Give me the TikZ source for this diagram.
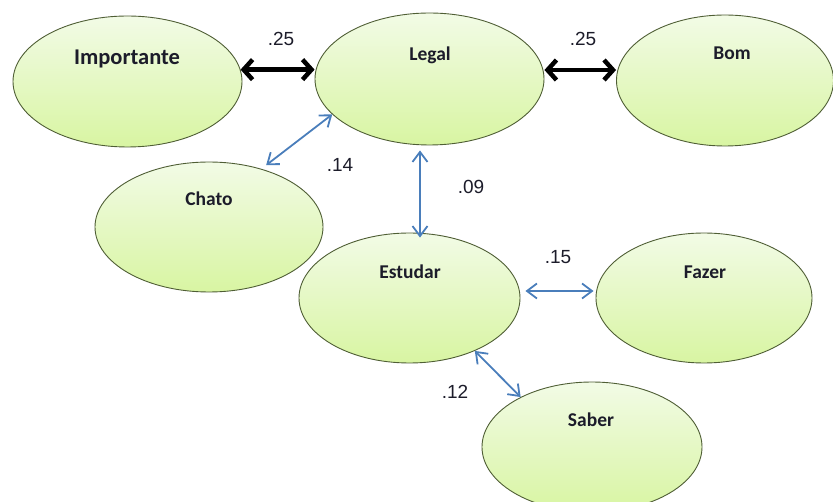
\documentclass[tikz,border=0pt]{standalone}
\usepackage{fontspec}
\usetikzlibrary{shapes.geometric,arrows.meta}
\newfontfamily\namefont{Carlito}
\newfontfamily\numfont{Liberation Sans}
\definecolor{topg}{HTML}{F2FBE6}
\definecolor{botg}{HTML}{D8F5A2}
\definecolor{edgeg}{HTML}{4F5E35}
\definecolor{arrblue}{HTML}{4A7EBB}
\definecolor{txtc}{HTML}{1C1C2A}
\tikzset{
  ell/.style={ellipse, draw=edgeg, line width=0.9pt, top color=topg, bottom color=botg, inner sep=0pt},
  nametxt/.style={font=\namefont\bfseries\fontsize{19.5}{19.5}\selectfont, text=txtc, anchor=base, inner sep=0pt},
  bignametxt/.style={font=\namefont\bfseries\fontsize{22.5}{22.5}\selectfont, text=txtc, anchor=base, inner sep=0pt},
  numtxt/.style={font=\numfont\fontsize{19}{19}\selectfont, text=txtc, anchor=base, inner sep=0pt},
  blk/.style={line width=4.5pt, black, {Straight Barb[length=9pt,width=20pt]}-{Straight Barb[length=9pt,width=20pt]}},
  blu/.style={line width=1.8pt, arrblue, {Straight Barb[length=10pt,width=15pt]}-{Straight Barb[length=10pt,width=15pt]}}
}
\begin{document}
\begin{tikzpicture}[x=1pt,y=-1pt]
\useasboundingbox (0,0) rectangle (833,502);
% ellipses
\node[ell, minimum width=229pt, minimum height=131pt] (imp) at (127.5,81.5) {};
\node[ell, minimum width=229pt, minimum height=132pt] (leg) at (429.5,79) {};
\node[ell, minimum width=217pt, minimum height=131pt] (bom) at (725,80.5) {};
\node[ell, minimum width=228pt, minimum height=130pt] (cha) at (209,227) {};
\node[ell, minimum width=221pt, minimum height=130pt] (est) at (409.5,298) {};
\node[ell, minimum width=216pt, minimum height=130pt] (faz) at (704,298) {};
\node[ell, minimum width=220pt, minimum height=130pt] (sab) at (592,447) {};
% texts
\node[bignametxt] (timp) at (127,64.3) {Importante};
\node[nametxt] (tleg) at (430,60.5) {Legal};
\node[nametxt] (tbom) at (732,60) {Bom};
\node[nametxt] (tcha) at (209,206) {Chato};
\node[nametxt] (test) at (410,279) {Estudar};
\node[nametxt] (tfaz) at (705,279) {Fazer};
\node[nametxt] (tsab) at (591,426.5) {Saber};
% connectors
\draw[blk] (imp.6) -- (imp.6 -| leg.west);
\draw[blk] ([yshift=9pt]leg.east) -- ([yshift=9pt]leg.east -| bom.west);
\draw[blu, shorten <=6pt] (cha.48.8) -- (leg.200.3);
\draw[blu] ([xshift=-9.5pt,yshift=-5pt]leg.south) -- ([xshift=-9.5pt,yshift=-5pt]leg.south |- est.north);
\draw[blu, shorten >=7pt] ([shift={(5pt,7pt)}]est.east) -- ([shift={(5pt,7pt)}]est.east -| faz.west);
\draw[blu] (est.-39.3) -- (sab.145.3);
% numbers
\node[numtxt] (n1) at (281,46) {.25};
\node[numtxt] (n2) at (583,46) {.25};
\node[numtxt] (n3) at (340,171.5) {.14};
\node[numtxt] (n4) at (471,194) {.09};
\node[numtxt] (n5) at (558,264) {.15};
\node[numtxt] (n6) at (455,399) {.12};
\end{tikzpicture}
\end{document}
